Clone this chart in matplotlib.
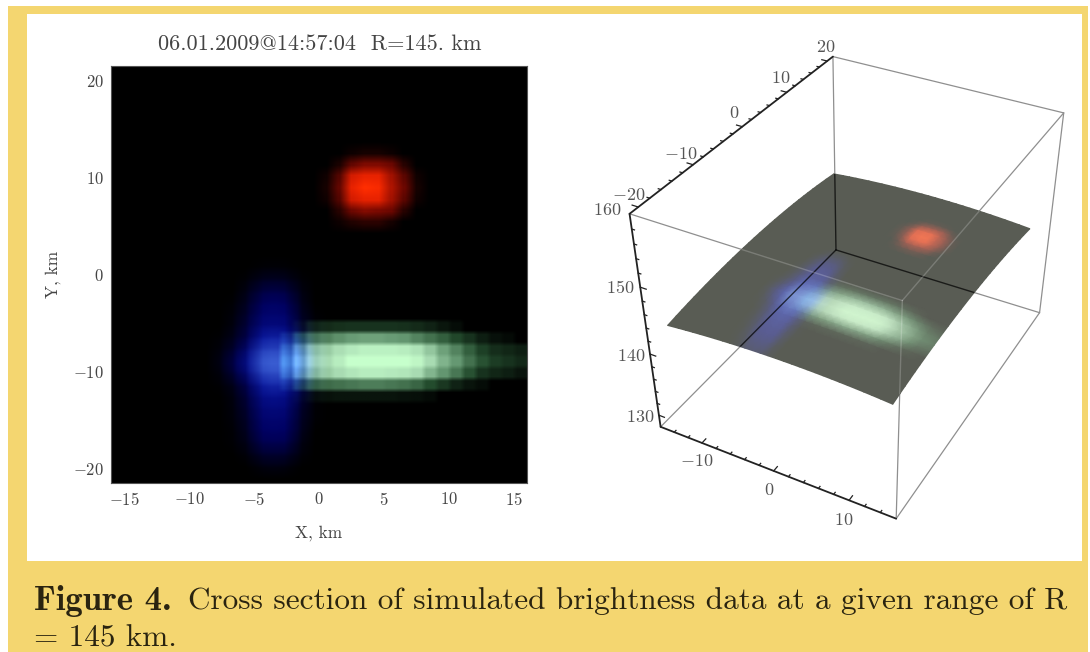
import numpy as np
from matplotlib import pyplot as plt
from matplotlib.colors import LinearSegmentedColormap
from matplotlib.patches import Polygon, Rectangle

plt.rcParams['mathtext.fontset'] = 'cm'
plt.rcParams['font.family'] = ['cmr10', 'DejaVu Serif']
plt.rcParams['axes.formatter.use_mathtext'] = True

title = "06.01.2009@14:57:04  R=145. km"
caption_bold = "Figure 4."
caption_line1 = "Cross section of simulated brightness data at a given range of R"
caption_line2 = "= 145 km."
x_ticks = [-15, -10, -5, 0, 5, 10, 15]
y_ticks = [-20, -10, 0, 10, 20]
x_ticks_3d = [-10, 0, 10]
y_ticks_3d = [-20, -10, 0, 10, 20]
z_ticks_3d = [130, 140, 150, 160]

x_lim = (-16, 16)
y_lim = (-21.5, 21.5)
z_lim = (128, 160)
surface_x = (-15, 14)
surface_y = (-19, 19.5)
range_km = 145.0
n_cols = 32
n_rows = 36

# brightness cells, rows go top to bottom
red_first_row, red_first_col = 7, 16
red_cells = [
    [0, 0, .04, .07, .07, .04, 0, 0],
    [0, .08, .3, .4, .4, .33, .12, 0],
    [.05, .25, .75, .85, .85, .55, .28, .05],
    [.07, .3, .85, 1, .95, .6, .33, .07],
    [.05, .25, .75, .85, .85, .55, .28, .05],
    [0, .12, .33, .42, .38, .33, .12, 0],
    [0, .04, .1, .13, .13, .07, 0, 0],
]
green_first_row, green_first_col = 22, 13
green_cells = [
    [0, .05, .14, .17, .19, .2, .2, .2, .2, .19, .17, .14, .09, .05, 0, 0, 0, 0, 0],
    [.1, .3, .42, .47, .52, .56, .58, .58, .56, .54, .48, .42, .36, .28, .2, .12, .07, .04, 0],
    [.2, .48, .68, .74, .82, .88, .92, .92, .92, .9, .84, .72, .58, .48, .36, .25, .18, .15, .12],
    [.25, .55, .75, .8, .9, 1, 1, 1, 1, 1, .95, .8, .65, .55, .42, .32, .24, .2, .16],
    [.2, .48, .66, .74, .8, .86, .9, .9, .88, .86, .8, .66, .54, .44, .32, .2, .15, .12, .08],
    [.08, .24, .36, .4, .42, .44, .46, .46, .44, .42, .38, .3, .22, .14, .08, .05, 0, 0, 0],
    [0, .02, .05, .07, .08, .08, .08, .08, .08, .07, .06, .04, 0, 0, 0, 0, 0, 0, 0],
]
blue_first_row, blue_first_col = 17, 8
blue_cells = [
    [0, 0, 0, .02, .03, .02, 0, 0],
    [0, 0, .03, .1, .12, .1, .03, 0],
    [0, 0, .08, .2, .24, .2, .07, 0],
    [0, .02, .12, .28, .33, .28, .1, 0],
    [0, .04, .16, .34, .38, .34, .13, .02],
    [0, .06, .2, .42, .46, .42, .15, .03],
    [.02, .1, .25, .6, .68, .6, .22, .05],
    [.05, .17, .42, .78, .85, .78, .36, .08],
    [.08, .25, .55, .92, 1, .92, .5, .1],
    [.05, .2, .45, .82, .9, .85, .4, .08],
    [.02, .1, .27, .62, .72, .62, .25, .05],
    [0, .06, .2, .48, .54, .48, .2, .03],
    [0, .05, .17, .4, .45, .4, .16, .02],
    [0, .04, .14, .35, .38, .35, .13, .02],
    [0, .02, .12, .3, .33, .3, .11, 0],
    [0, .02, .08, .24, .26, .24, .07, 0],
    [0, 0, .04, .14, .16, .14, .04, 0],
    [0, 0, 0, .05, .07, .05, 0, 0],
]

red_map = LinearSegmentedColormap.from_list("r", [(0, (0, 0, 0)), (.35, (.45, .03, 0)), (.8, (.88, .12, 0)), (1, (1, .18, 0))])
green_map = LinearSegmentedColormap.from_list("g", [(0, (0, 0, 0)), (.3, (.14, .3, .18)), (.55, (.4, .6, .45)), (.8, (.66, .86, .7)), (1, (.78, 1, .8))])
blue_map = LinearSegmentedColormap.from_list("b", [(0, (0, 0, 0)), (.3, (0, 0, .38)), (.6, (.03, .08, .6)), (1, (.25, .4, .85))])


def layer(cells, first_row, first_col):
    grid = np.zeros((n_rows, n_cols))
    cells = np.array(cells)
    grid[first_row:first_row + cells.shape[0], first_col:first_col + cells.shape[1]] = cells
    return grid


def soften(rgb, k, scale=8):
    # big pixels with the edges slightly smeared, as in the scanned figure
    big = np.kron(rgb, np.ones((scale, scale, 1)))
    box = np.ones(k) / k
    for axis in (0, 1):
        big = np.apply_along_axis(lambda s: np.convolve(np.pad(s, k, mode='edge'), box, mode='same')[k:-k], axis, big)
    return big


red = layer(red_cells, red_first_row, red_first_col)
green = layer(green_cells, green_first_row, green_first_col)
blue = layer(blue_cells, blue_first_row, blue_first_col)
red_rgb = red_map(red)[:, :, :3]
green_rgb = green_map(green)[:, :, :3]
blue_rgb = blue_map(blue)[:, :, :3]
glow = np.clip(red_rgb + green_rgb + blue_rgb, 0, 1)
glow_soft = np.clip(soften(red_rgb, 7) + soften(green_rgb, 3) + soften(blue_rgb, 11), 0, 1)

fig = plt.figure(figsize=(10.9, 6.52), dpi=100, facecolor='white')
W, H = 1090.0, 652.0


def px_axes(left, top, right, bottom):
    return fig.add_axes([left / W, 1 - bottom / H, (right - left) / W, (bottom - top) / H])


# whole figure in pixels, for panel, 3d box and caption
page = fig.add_axes([0, 0, 1, 1])
page.set_xlim(0, W)
page.set_ylim(H, 0)
page.axis('off')
page.add_patch(Rectangle((8, 6), 1080, H, fc='#f4d670', ec='none'))
page.add_patch(Rectangle((27, 14), 1055, 547, fc='white', ec='none'))

# left panel
ax = px_axes(111, 66, 527, 483)
ax.imshow(glow_soft, extent=(x_lim[0], x_lim[1], y_lim[0], y_lim[1]), aspect='auto', interpolation='bilinear')
ax.set_xticks(x_ticks)
ax.set_yticks(y_ticks)
ax.set_xticklabels(['$%d$' % t for t in x_ticks], fontsize=12, color='#444444')
ax.set_yticklabels(['$%d$' % t for t in y_ticks], fontsize=12, color='#444444')
ax.tick_params(length=0, pad=6)
ax.tick_params(axis='y', pad=5)
for s in ax.spines.values():
    s.set_color('#555555')
    s.set_linewidth(0.8)
ax.set_xlabel("X, km", fontsize=12.5, color='#444444', labelpad=12)
ax.set_ylabel("Y, km", fontsize=12.5, color='#444444', labelpad=9)
page.text(319.5, 44, title, ha='center', va='center', fontsize=16, color='#444444')

# right panel: box corners as seen in the picture give the camera
box_data = np.array([
    [x_lim[0], y_lim[0], z_lim[1]], [x_lim[0], y_lim[1], z_lim[1]],
    [x_lim[1], y_lim[1], z_lim[1]], [x_lim[1], y_lim[0], z_lim[1]],
    [x_lim[0], y_lim[0], z_lim[0]], [x_lim[0], y_lim[1], z_lim[0]],
    [x_lim[1], y_lim[1], z_lim[0]], [x_lim[1], y_lim[0], z_lim[0]],
], dtype=float)
box_px = np.array([
    [630, 213], [832, 57], [1063, 112], [904, 302],
    [660, 427], [837, 250], [1040, 313], [895, 518],
], dtype=float)

rows = []
rhs = []
for (X, Y, Z), (u, v) in zip(box_data, box_px):
    rows.append([X, Y, Z, 1, 0, 0, 0, 0, -u * X, -u * Y, -u * Z])
    rows.append([0, 0, 0, 0, X, Y, Z, 1, -v * X, -v * Y, -v * Z])
    rhs += [u, v]
camera = np.append(np.linalg.lstsq(np.array(rows), np.array(rhs), rcond=None)[0], 1).reshape(3, 4)


def project(x, y, z):
    pts = np.stack([np.asarray(x, float), np.asarray(y, float), np.asarray(z, float), np.ones_like(np.asarray(x, float))], axis=-1)
    out = pts @ camera.T
    return out[..., 0] / out[..., 2], out[..., 1] / out[..., 2]


def edge(i, j, **kw):
    u, v = project(*np.array([box_data[i], box_data[j]]).T)
    return page.plot(u, v, solid_capstyle='round', **kw)[0]


for i, j in [(1, 2), (2, 3), (3, 0), (2, 6), (6, 7), (1, 5), (5, 6), (5, 4), (3, 7)]:
    edge(i, j, color='#8f8f8f', lw=.9, zorder=2)

# the surface at the given range, cells outside its footprint are dropped
col_x = x_lim[0] + (np.arange(n_cols) + .5) * (x_lim[1] - x_lim[0]) / n_cols
row_y = y_lim[1] - (np.arange(n_rows) + .5) * (y_lim[1] - y_lim[0]) / n_rows
keep_col = (col_x > surface_x[0]) & (col_x < surface_x[1])
keep_row = (row_y > surface_y[0]) & (row_y < surface_y[1])
sx = col_x[keep_col]
sy = row_y[keep_row]
sx[0], sx[-1] = surface_x
sy[0], sy[-1] = surface_y[1], surface_y[0]
gx, gy = np.meshgrid(sx, sy)
gz = np.sqrt(range_km ** 2 - gx ** 2 - gy ** 2)
su, sv = project(gx, gy, gz)
plane_rgb = np.clip(np.array([.35, .36, .33]) + glow[keep_row][:, keep_col] * .6, 0, 1)
page.pcolormesh(su, sv, plane_rgb, shading='gouraud', zorder=3)
outline = np.concatenate([
    np.stack([su[0], sv[0]], 1), np.stack([su[:, -1], sv[:, -1]], 1),
    np.stack([su[-1][::-1], sv[-1][::-1]], 1), np.stack([su[:, 0][::-1], sv[:, 0][::-1]], 1)])
plane_clip = Polygon(outline, closed=True, fc='none', ec='none', transform=page.transData)
page.add_patch(plane_clip)

# lines under the surface show dark, lines over it show light
for i, j in [(5, 6), (5, 4), (5, 1)]:
    edge(i, j, color='black', lw=1.0, alpha=.7, zorder=4).set_clip_path(plane_clip)
for i, j in [(0, 3), (2, 3), (3, 7)]:
    edge(i, j, color='white', lw=1.0, alpha=.2, zorder=4).set_clip_path(plane_clip)
for i, j in [(0, 1), (0, 4), (4, 7)]:
    edge(i, j, color='#222222', lw=1.3, zorder=5)

# tick marks on the three labelled edges
for v in np.arange(-20, 21, 2):
    L = .35 if v % 10 else .8
    u1, v1 = project([x_lim[0], x_lim[0] - L], [v, v], [z_lim[1], z_lim[1]])
    page.plot(u1, v1, color='#222222', lw=.9, zorder=5)
for v in np.arange(-14, 15, 2):
    L = .35 if v % 10 else .8
    u1, v1 = project([v, v], [y_lim[0], y_lim[0] + L], [z_lim[0], z_lim[0]])
    page.plot(u1, v1, color='#222222', lw=.9, zorder=5)
for v in np.arange(130, 160, 2):
    L = .35 if v % 10 else .8
    u1, v1 = project([x_lim[0], x_lim[0] + L], [y_lim[0], y_lim[0]], [v, v])
    page.plot(u1, v1, color='#222222', lw=.9, zorder=5)

tick_style = dict(ha='center', va='center', fontsize=13, color='#555555', zorder=6)
for t, off in zip(y_ticks_3d, [(-10, -12), (-12, -11), (-8, -14), (-6, -14), (-1, -14)]):
    u, v = project(x_lim[0], t, z_lim[1])
    page.text(u + off[0], v + off[1], '$%d$' % t, **tick_style)
for t, off in zip(z_ticks_3d, [(-19, 2), (-19, 2), (-20, 0), (-22, -4)]):
    u, v = project(x_lim[0], y_lim[0], t)
    page.text(u + off[0], v + off[1], '$%d$' % t, **tick_style)
for t, off in zip(x_ticks_3d, [(-5, 18), (-5, 19), (-5, 20)]):
    u, v = project(t, y_lim[0], z_lim[0])
    page.text(u + off[0], v + off[1], '$%d$' % t, **tick_style)

# caption
page.text(34, 601, caption_bold, family=['cmb10', 'DejaVu Serif'], fontsize=25, color='#2a2410', va='center')
page.text(188, 601, caption_line1, fontsize=22.5, color='#2a2410', va='center')
page.text(34, 639, caption_line2, fontsize=22.5, color='#2a2410', va='center')

fig.savefig('out.png', dpi=100, facecolor=fig.get_facecolor())
